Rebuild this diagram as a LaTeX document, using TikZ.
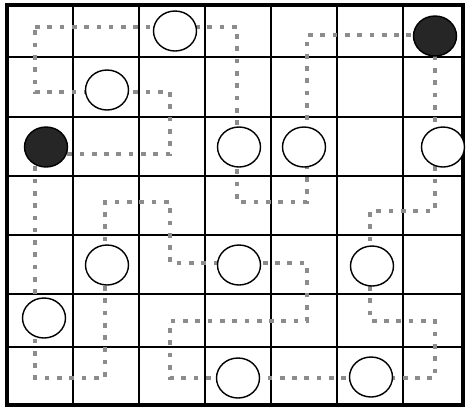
\documentclass[tikz,border=0pt]{standalone}
\usetikzlibrary{shapes.geometric}
\begin{document}
\begin{tikzpicture}[x=0.03cm,y=-0.03cm,
    whitepearl/.style={ellipse,draw,line width=1.2pt,fill=white,minimum width=1.29cm,minimum height=1.2cm,inner sep=0pt},
    blackpearl/.style={whitepearl,fill=black!85},
    loopline/.style={draw=black!45,line width=3.2pt,dash pattern=on 4pt off 6.5pt}]
    \useasboundingbox (0,0) rectangle (467,410);

    % Grid lines
    \foreach \x in {73,139,205,271,337,403} {
        \draw[line width=1.3pt] (\x,5) -- (\x,405);
    }
    \foreach \y in {57,117,176,235,294,347} {
        \draw[line width=1.3pt] (7,\y) -- (463,\y);
    }
    \draw[line width=2.6pt] (7,5) rectangle (463,405);

    % Turning points of the loop
    \coordinate (a) at (35,27);
    \coordinate (b) at (237,27);
    \coordinate (c) at (237,202);
    \coordinate (d) at (307,202);
    \coordinate (e) at (307,35);
    \coordinate (f) at (435,35);
    \coordinate (g) at (435,211);
    \coordinate (h) at (370,211);
    \coordinate (i) at (370,321);
    \coordinate (j) at (435,321);
    \coordinate (k) at (435,378);
    \coordinate (l) at (170,378);
    \coordinate (m) at (170,321);
    \coordinate (n) at (307,321);
    \coordinate (o) at (307,263);
    \coordinate (p) at (170,263);
    \coordinate (q) at (170,202);
    \coordinate (r) at (105,202);
    \coordinate (s) at (105,378);
    \coordinate (t) at (35,378);
    \coordinate (u) at (35,154);
    \coordinate (v) at (170,154);
    \coordinate (w) at (170,92);
    \coordinate (z) at (35,92);

    % Loop
    \draw[loopline] (a) -- (b) -- (c) -- (d) -- (e) -- (f) -- (g) -- (h) -- (i) -- (j)
        -- (k) -- (l) -- (m) -- (n) -- (o) -- (p) -- (q) -- (r) -- (s) -- (t) -- (u)
        -- (v) -- (w) -- (z) -- cycle;

    % Pearls
    \node[whitepearl] (w1) at (175,31) {};
    \node[whitepearl] (w2) at (107,90) {};
    \node[whitepearl] (w3) at (239,147) {};
    \node[whitepearl] (w4) at (304,147) {};
    \node[whitepearl] (w5) at (443,147) {};
    \node[whitepearl] (w6) at (107,265) {};
    \node[whitepearl] (w7) at (239,265) {};
    \node[whitepearl] (w8) at (372,266) {};
    \node[whitepearl] (w9) at (44,318) {};
    \node[whitepearl] (w10) at (238,378) {};
    \node[whitepearl] (w11) at (371,377) {};
    \node[blackpearl] (b1) at (435,36) {};
    \node[blackpearl] (b2) at (46,147) {};
\end{tikzpicture}
\end{document}
